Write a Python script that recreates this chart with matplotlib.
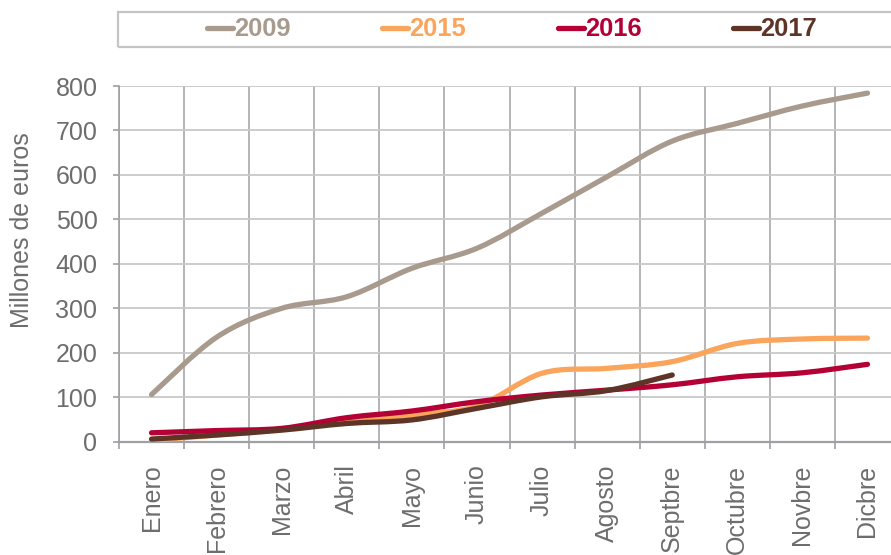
import matplotlib
matplotlib.use("Agg")
import matplotlib.pyplot as plt
from matplotlib.path import Path
from matplotlib.patches import PathPatch, Rectangle
from matplotlib.lines import Line2D
import numpy as np

# datos (millones de euros, acumulado mensual)
meses = ["Enero", "Febrero", "Marzo", "Abril", "Mayo", "Junio", "Julio",
         "Agosto", "Septbre", "Octubre", "Novbre", "Dicbre"]
v2009 = [106, 235, 300, 326, 390, 435, 514, 596, 676, 716, 755, 784]
v2015 = [3, 15, 28, 45, 60, 80, 154, 165, 180, 221, 231, 233]
v2016 = [20, 25, 30, 54, 69, 90, 105, 116, 128, 146, 155, 174]
v2017 = [6, 15, 26, 41, 49, 75, 101, 115, 150]
anios = ["2009", "2015", "2016", "2017"]
colores = ["#A89B8E", "#FBA55C", "#B50035", "#5E3427"]

GRIS = "#6d6d6d"
plt.rcParams["font.family"] = ["Liberation Sans", "DejaVu Sans"]


def curva_suave(x, y):
    # curva tipo "linea suavizada" de Excel (Catmull-Rom -> Bezier)
    p = np.column_stack([x, y]).astype(float)
    p_ext = np.vstack([p[0], p, p[-1]])
    verts = [p[0]]
    codes = [Path.MOVETO]
    for i in range(1, len(p_ext) - 2):
        p0, p1, p2, p3 = p_ext[i - 1], p_ext[i], p_ext[i + 1], p_ext[i + 2]
        c1 = p1 + (p2 - p0) / 6.0
        c2 = p2 - (p3 - p1) / 6.0
        verts += [c1, c2, p2]
        codes += [Path.CURVE4] * 3
    return Path(verts, codes)


def main():
    fig = plt.figure(figsize=(8.91, 5.55), dpi=100)
    ax = fig.add_axes([119 / 891, 113.3 / 555, 781 / 891, 355.7 / 555])

    series = [v2009, v2015, v2016, v2017]
    for vals, col in zip(series, colores):
        x = np.arange(len(vals))
        patch = PathPatch(curva_suave(x, vals), facecolor="none", edgecolor=col,
                          lw=3.8, capstyle="round", joinstyle="round", zorder=3)
        ax.add_patch(patch)

    ax.set_xlim(-0.5, 11.5)
    ax.set_ylim(0, 800)

    # eje y
    ax.set_yticks(np.arange(0, 801, 100))
    ax.tick_params(axis="y", length=4.5, width=1.2, color="#a0a0a4", pad=11,
                   labelsize=18, labelcolor=GRIS)
    ax.yaxis.grid(True, color="#c8c8c8", lw=1.3)

    # eje x: divisiones entre meses, etiquetas centradas
    ax.set_xticks(np.arange(-0.5, 12, 1))
    ax.set_xticklabels([])
    ax.set_xticks(np.arange(12), minor=True)
    ax.set_xticklabels(meses, minor=True, rotation=90, va="top", ha="center")
    ax.tick_params(axis="x", which="major", length=5, width=1.2, color="#a0a0a4")
    ax.tick_params(axis="x", which="minor", length=0, pad=16.5,
                   labelsize=18, labelcolor=GRIS)
    ax.xaxis.grid(True, which="major", color="#a0a0a4", lw=1.1)
    ax.set_axisbelow(True)

    for s in ["top", "right"]:
        ax.spines[s].set_visible(False)
    ax.spines["left"].set_color("#a0a0a4")
    ax.spines["left"].set_linewidth(1.2)
    ax.spines["bottom"].set_color("#a0a0a4")
    ax.spines["bottom"].set_linewidth(1.6)

    fig.text(22 / 891, 1 - 230 / 555, "Millones de euros", rotation=90,
             ha="center", va="center", fontsize=18, color=GRIS)

    # leyenda con marco
    fig.patches.append(Rectangle((118 / 891, 1 - 46.7 / 555), 0.9, 35 / 555,
                                 transform=fig.transFigure, fill=False,
                                 edgecolor="#c4c4c4", lw=1.6))
    handles = [Line2D([], [], color=c, lw=3.8, solid_capstyle="round") for c in colores]
    leg = fig.legend(handles, anios, loc="center", ncol=4,
                     bbox_to_anchor=(512 / 891, 1 - 29.5 / 555),
                     frameon=False, handlelength=1.0, handletextpad=0.05,
                     columnspacing=3.6,
                     prop={"family": "Liberation Sans", "weight": "bold", "size": 18.4})
    for t, c in zip(leg.get_texts(), colores):
        t.set_color(c)

    fig.savefig("out.png", dpi=100)
    plt.close(fig)


if __name__ == "__main__":
    main()
